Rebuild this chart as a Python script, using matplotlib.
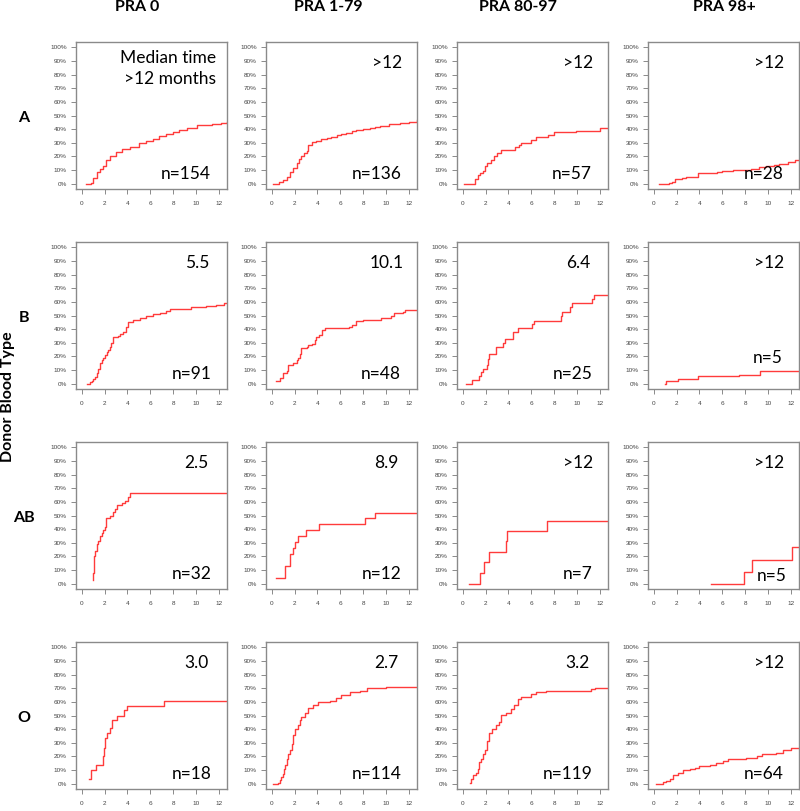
import matplotlib
matplotlib.use("Agg")
import matplotlib.pyplot as plt
from matplotlib.ticker import FuncFormatter

# ---------------- data ----------------
col_titles = ["PRA 0", "PRA 1-79", "PRA 80-97", "PRA 98+"]
row_labels = ["A", "B", "AB", "O"]
ylabel = "Donor Blood Type"

medians = [["Median time\n>12 months", ">12", ">12", ">12"],
           ["5.5", "10.1", "6.4", ">12"],
           ["2.5", "8.9", ">12", ">12"],
           ["3.0", "2.7", "3.2", ">12"]]
n_labels = [["n=154", "n=136", "n=57", "n=28"],
            ["n=91", "n=48", "n=25", "n=5"],
            ["n=32", "n=12", "n=7", "n=5"],
            ["n=18", "n=114", "n=119", "n=64"]]

x_ticks = [0, 2, 4, 6, 8, 10, 12]
y_ticks = [0, 0.1, 0.2, 0.3, 0.4, 0.5, 0.6, 0.7, 0.8, 0.9, 1.0]

# months, cumulative incidence (step after each time)
A_PRA0_t = [0.38, 0.78, 1.0, 1.3, 1.6, 1.85, 2.1, 2.5, 3.0, 3.5, 4.2, 5.0, 5.6, 6.2, 6.8, 7.4, 8.0, 8.5, 9.25, 10.1, 11.4, 12.2, 12.72]
A_PRA0_ci = [0, 0.005, 0.04, 0.085, 0.11, 0.13, 0.17, 0.20, 0.235, 0.255, 0.27, 0.295, 0.315, 0.33, 0.35, 0.365, 0.38, 0.395, 0.41, 0.43, 0.435, 0.445, 0.452]
A_PRA179_t = [0.1, 0.67, 1.0, 1.3, 1.6, 1.9, 2.2, 2.4, 2.6, 2.8, 3.05, 3.2, 3.5, 3.9, 4.3, 4.8, 5.2, 5.7, 6.1, 6.5, 7.0, 7.4, 8.0, 8.6, 9.0, 9.45, 10.3, 11.2, 12.0, 12.72]
A_PRA179_ci = [0, 0.01, 0.025, 0.05, 0.085, 0.115, 0.15, 0.18, 0.205, 0.225, 0.24, 0.285, 0.305, 0.315, 0.325, 0.335, 0.345, 0.355, 0.365, 0.375, 0.385, 0.395, 0.40, 0.41, 0.418, 0.425, 0.44, 0.445, 0.455, 0.465]
A_PRA8097_t = [0.15, 1.05, 1.3, 1.5, 1.74, 1.98, 2.1, 2.47, 2.76, 2.97, 3.34, 4.6, 4.9, 5.1, 5.96, 6.4, 7.5, 8.0, 9.9, 12.05, 12.72]
A_PRA8097_ci = [0, 0.035, 0.06, 0.075, 0.095, 0.13, 0.15, 0.17, 0.205, 0.225, 0.25, 0.265, 0.285, 0.30, 0.32, 0.34, 0.36, 0.38, 0.385, 0.41, 0.41]
A_PRA98_t = [0.47, 1.3, 1.6, 1.85, 2.5, 2.8, 3.9, 5.5, 6.0, 6.9, 7.5, 8.5, 9.2, 9.8, 10.5, 11.0, 11.8, 12.4, 12.72]
A_PRA98_ci = [0, 0.005, 0.015, 0.03, 0.04, 0.045, 0.08, 0.085, 0.09, 0.097, 0.10, 0.11, 0.12, 0.13, 0.14, 0.145, 0.155, 0.17, 0.175]

B_PRA0_t = [0.44, 0.73, 0.87, 1.0, 1.15, 1.3, 1.45, 1.6, 1.75, 1.9, 2.05, 2.18, 2.33, 2.47, 2.6, 2.76, 3.2, 3.34, 3.6, 3.9, 4.07, 4.5, 5.1, 5.67, 6.25, 6.83, 7.4, 7.7, 9.6, 10.0, 10.9, 11.8, 12.5, 12.72]
B_PRA0_ci = [0, 0.012, 0.017, 0.03, 0.05, 0.08, 0.11, 0.15, 0.175, 0.19, 0.21, 0.23, 0.25, 0.27, 0.30, 0.34, 0.35, 0.365, 0.38, 0.415, 0.455, 0.465, 0.48, 0.50, 0.51, 0.52, 0.535, 0.55, 0.56, 0.565, 0.57, 0.58, 0.59, 0.595]
B_PRA179_t = [0.38, 0.73, 1.0, 1.3, 1.45, 1.9, 2.18, 2.3, 2.47, 2.6, 3.05, 3.2, 3.5, 3.78, 3.92, 4.15, 4.36, 4.65, 6.0, 6.8, 7.0, 7.4, 8.0, 9.6, 10.4, 10.7, 11.5, 11.65, 12.72]
B_PRA179_ci = [0.017, 0.04, 0.077, 0.094, 0.135, 0.15, 0.173, 0.19, 0.22, 0.263, 0.27, 0.28, 0.294, 0.318, 0.34, 0.36, 0.39, 0.405, 0.41, 0.415, 0.43, 0.46, 0.47, 0.48, 0.50, 0.515, 0.525, 0.54, 0.54]
B_PRA8097_t = [0.3, 0.81, 1.45, 1.6, 1.74, 2.1, 2.18, 2.33, 2.9, 3.5, 3.72, 4.36, 4.8, 6.1, 6.25, 8.57, 8.7, 9.36, 9.6, 11.34, 11.5, 12.72]
B_PRA8097_ci = [0, 0.029, 0.053, 0.084, 0.108, 0.137, 0.18, 0.22, 0.27, 0.30, 0.33, 0.378, 0.407, 0.438, 0.463, 0.50, 0.528, 0.56, 0.59, 0.62, 0.648, 0.648]
B_PRA98_t = [0.96, 1.1, 2.12, 3.87, 7.5, 9.3, 12.72]
B_PRA98_ci = [0, 0.017, 0.036, 0.053, 0.065, 0.09, 0.09]

AB_PRA0_t = [0.96, 1.0, 1.04, 1.08, 1.16, 1.3, 1.45, 1.6, 1.74, 1.9, 2.03, 2.1, 2.47, 2.76, 2.9, 3.05, 3.5, 3.78, 4.07, 4.2, 12.72]
AB_PRA0_ci = [0.024, 0.08, 0.14, 0.20, 0.24, 0.287, 0.316, 0.347, 0.37, 0.395, 0.419, 0.483, 0.50, 0.526, 0.545, 0.574, 0.59, 0.61, 0.634, 0.663, 0.663]
AB_PRA179_t = [0.38, 1.16, 1.6, 1.83, 2.03, 2.33, 3.0, 4.15, 8.2, 9.0, 12.72]
AB_PRA179_ci = [0.043, 0.13, 0.215, 0.263, 0.306, 0.35, 0.395, 0.438, 0.478, 0.52, 0.52]
AB_PRA8097_t = [0.58, 1.5, 1.9, 2.27, 3.78, 3.87, 7.4, 12.72]
AB_PRA8097_ci = [0, 0.077, 0.155, 0.232, 0.31, 0.387, 0.46, 0.46]
AB_PRA98_t = [5.03, 7.88, 8.58, 12.1, 12.72]
AB_PRA98_ci = [0, 0.084, 0.172, 0.268, 0.268]

O_PRA0_t = [0.67, 0.78, 1.25, 1.89, 1.98, 2.06, 2.24, 2.47, 2.62, 3.05, 3.7, 3.98, 7.18, 12.72]
O_PRA0_ci = [0.036, 0.103, 0.139, 0.20, 0.26, 0.335, 0.37, 0.407, 0.47, 0.50, 0.538, 0.57, 0.61, 0.61]
O_PRA179_t = [0.15, 0.58, 0.73, 0.85, 0.96, 1.06, 1.16, 1.3, 1.45, 1.6, 1.74, 1.9, 2.08, 2.27, 2.45, 2.6, 2.9, 3.2, 3.63, 4.07, 5.1, 5.67, 6.1, 6.83, 7.7, 8.3, 10.0, 12.72]
O_PRA179_ci = [0, 0.005, 0.024, 0.045, 0.07, 0.105, 0.14, 0.18, 0.215, 0.25, 0.287, 0.36, 0.40, 0.43, 0.465, 0.49, 0.52, 0.555, 0.574, 0.598, 0.61, 0.627, 0.65, 0.67, 0.682, 0.70, 0.71, 0.71]
O_PRA8097_t = [0.64, 0.73, 0.93, 1.16, 1.3, 1.45, 1.6, 1.74, 1.98, 2.12, 2.33, 2.6, 2.9, 3.2, 3.34, 3.78, 4.2, 4.5, 4.8, 5.1, 5.96, 6.4, 7.27, 11.2, 11.6, 12.72]
O_PRA8097_ci = [0.005, 0.036, 0.06, 0.08, 0.108, 0.155, 0.18, 0.215, 0.25, 0.31, 0.37, 0.40, 0.43, 0.455, 0.507, 0.52, 0.55, 0.574, 0.62, 0.634, 0.657, 0.675, 0.682, 0.694, 0.70, 0.70]
O_PRA98_t = [0.23, 0.81, 1.1, 1.4, 1.7, 2.12, 2.56, 3.14, 3.58, 4.0, 4.9, 5.47, 6.05, 6.5, 8.1, 9.0, 9.5, 10.7, 11.3, 12.0, 12.72]
O_PRA98_ci = [0, 0.01, 0.02, 0.036, 0.06, 0.08, 0.096, 0.108, 0.115, 0.132, 0.139, 0.15, 0.163, 0.18, 0.19, 0.203, 0.215, 0.222, 0.25, 0.263, 0.263]

curves = [
    [(A_PRA0_t, A_PRA0_ci), (A_PRA179_t, A_PRA179_ci), (A_PRA8097_t, A_PRA8097_ci), (A_PRA98_t, A_PRA98_ci)],
    [(B_PRA0_t, B_PRA0_ci), (B_PRA179_t, B_PRA179_ci), (B_PRA8097_t, B_PRA8097_ci), (B_PRA98_t, B_PRA98_ci)],
    [(AB_PRA0_t, AB_PRA0_ci), (AB_PRA179_t, AB_PRA179_ci), (AB_PRA8097_t, AB_PRA8097_ci), (AB_PRA98_t, AB_PRA98_ci)],
    [(O_PRA0_t, O_PRA0_ci), (O_PRA179_t, O_PRA179_ci), (O_PRA8097_t, O_PRA8097_ci), (O_PRA98_t, O_PRA98_ci)],
]

# ---------------- layout ----------------
W, H = 800, 811
fig = plt.figure(figsize=(W / 100, H / 100), dpi=100)

col_left_px = [76, 266, 457, 648]
row_top_px = [42, 242, 442, 642]
ax_w_px, ax_h_px = 151, 147
title_x_px = [137, 328, 518, 724]

# special placement of n-labels (axes fraction)
n_pos = {(1, 3): (0.894, 0.21), (2, 3): (0.92, 0.09)}

line_color = "#ff3b3b"
frame_color = "#8a8a8a"
text_font = ["Lato", "DejaVu Sans"]
tick_font = ["Liberation Sans", "DejaVu Sans"]

pct = FuncFormatter(lambda v, p: f"{int(round(v * 100))}%")

for r in range(4):
    for c in range(4):
        left = col_left_px[c] / W
        bottom = 1 - (row_top_px[r] + ax_h_px) / H
        ax = fig.add_axes([left, bottom, ax_w_px / W, ax_h_px / H])
        t, ci = curves[r][c]
        ax.step(t, ci, where="post", color=line_color, lw=1.0)
        ax.set_xlim(-0.5, 12.72)
        ax.set_ylim(-0.04, 1.04)
        ax.set_xticks(x_ticks)
        ax.set_yticks(y_ticks)
        ax.yaxis.set_major_formatter(pct)
        for s in ax.spines.values():
            s.set_color(frame_color)
            s.set_linewidth(1.0)
        ax.tick_params(axis="both", direction="out", length=3.5, width=0.7,
                       color=frame_color, labelcolor="#444444", labelsize=4.6)
        ax.tick_params(axis="x", pad=5)
        ax.tick_params(axis="y", pad=3)
        for lab in ax.get_xticklabels() + ax.get_yticklabels():
            lab.set_family(tick_font)

        # annotations
        if r == 0 and c == 0:
            ax.text(0.927, 0.82, medians[r][c], transform=ax.transAxes,
                    ha="right", va="center", fontsize=12.5, family=text_font,
                    linespacing=1.45)
        else:
            ax.text(0.80, 0.855, medians[r][c], transform=ax.transAxes,
                    ha="center", va="center", fontsize=12.5, family=text_font)
        nx, ny = n_pos.get((r, c), (0.895, 0.10))
        ax.text(nx, ny, n_labels[r][c], transform=ax.transAxes,
                ha="right", va="center", fontsize=12.5, family=text_font)

# column titles
for c, title in enumerate(col_titles):
    fig.text(title_x_px[c] / W, 1 - 7 / H, title, ha="center", va="center",
             fontsize=11.5, fontweight="bold", family=text_font)

# row labels
for r, lab in enumerate(row_labels):
    yc = row_top_px[r] + ax_h_px / 2 + 2
    fig.text(24 / W, 1 - yc / H, lab, ha="center", va="center",
             fontsize=11.5, fontweight="bold", family=text_font)

fig.text(8 / W, 1 - 397 / H, ylabel, rotation=90, ha="center", va="center",
         fontsize=11.5, fontweight="bold", family=text_font)

fig.savefig("out.png", dpi=100)
